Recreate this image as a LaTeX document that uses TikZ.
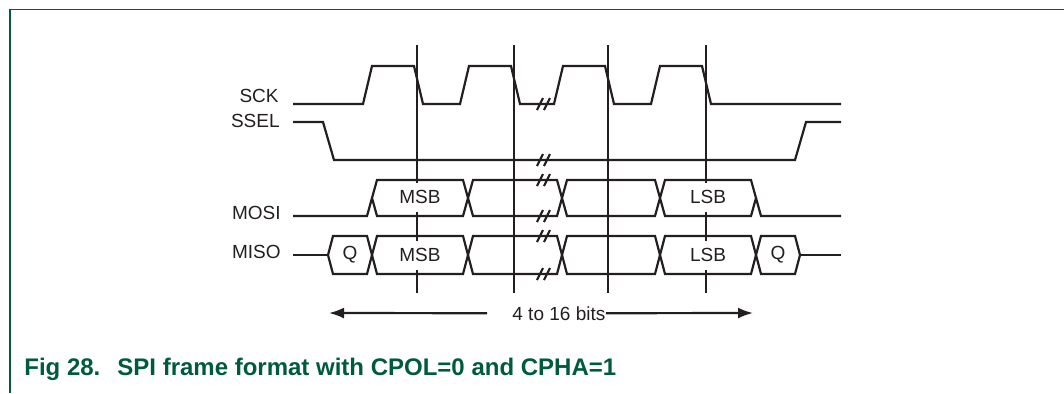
\documentclass[tikz,border=0pt]{standalone}
\usepackage{fontspec}
\setmainfont{Liberation Sans}
\usepackage{xcolor}
\usepackage{tikz}
\usetikzlibrary{arrows.meta}
\definecolor{Ink}{HTML}{231F20}
\definecolor{NxpGreen}{HTML}{005A3E}

\begin{document}
\begin{tikzpicture}[x=0.5pt,y=-0.5pt,
  wave/.style={line width=1.1pt,color=Ink,line join=miter},
  lbl/.style={inner sep=0pt,font=\fontsize{9.5}{11}\selectfont,text=Ink},
  bitlbl/.style={fill=white,inner xsep=2pt,minimum height=14.5pt,font=\fontsize{9.5}{11}\selectfont,text=Ink},
  caption/.style={inner sep=0pt,font=\fontsize{12}{14}\selectfont\bfseries,text=NxpGreen}]
\useasboundingbox (0,0) rectangle (1064,393);
% frame
\draw[NxpGreen,line width=0.8pt] (10,393)--(10,9.5)--(1064,9.5);
% sampling edges
\foreach \x in {417,514,608,706} \draw[wave] (\x,45)--(\x,293);
% SCK and SSEL
\draw[wave] (293,104) foreach \x in {363,460,554,651} {--(\x,104)--(\x+9,66)--(\x+51,66)--(\x+60,104)} --(841,104);
\draw[wave] (293,122)--(323,122)--(334,160)--(795,160)--(806,122)--(841,122);
% MOSI
\draw[wave] (293,216)--(367,216)--(372,198);
\foreach \a/\b in {372/468,468/562,562/660,660/756}
  \draw[wave] (\a,198)--(\a+5,180)--(\b-5,180)--(\b,198)--(\b-5,216)--(\a+5,216)--cycle;
\draw[wave] (756,198)--(761,216)--(841,216);
% MISO
\draw[wave] (293,255)--(328,255);
\foreach \a/\b in {328/372,372/468,468/562,562/660,660/756,756/800}
  \draw[wave] (\a,255)--(\a+5,236)--(\b-5,236)--(\b,255)--(\b-5,274)--(\a+5,274)--cycle;
\draw[wave] (800,255)--(841,255);
% breaks
\foreach \y in {104,160,180,216,236,274}
  \foreach \c in {540,547} \draw[wave] (\c-3,\y+6)--(\c+3,\y-6);
% bit labels
\foreach \x/\t in {420/MSB,708/LSB} \node[bitlbl] (mosi-\t) at (\x,197) {\t};
\foreach \x/\t/\n in {350/Q/qa,420/MSB/msb,708/LSB/lsb,778/Q/qb} \node[bitlbl] (miso-\n) at (\x,255) {\t};
% signal names
\node[lbl,anchor=base east] (sck) at (279,102) {SCK};
\node[lbl,anchor=base east] (ssel) at (280,127) {SSEL};
\node[lbl,anchor=base east] (mosi) at (281,219) {MOSI};
\node[lbl,anchor=base east] (miso) at (281,258) {MISO};
% frame length
\coordinate (bitsL) at (329,313);
\coordinate (bitsR) at (753,313);
\node[lbl,anchor=base west] (bits) at (512,320) {4 to 16 bits};
\draw[wave,-{Latex[length=7.5pt,width=5.5pt]}] ([xshift=-12.5pt]bits.west)--(bitsL);
\draw[wave,-{Latex[length=7.5pt,width=5.5pt]}] (bits.east)--(bitsR);
\node[caption,anchor=base west] (cap) at (24,375) {Fig 28.\hspace{8.5pt}SPI frame format with CPOL=0 and CPHA=1};
\end{tikzpicture}
\end{document}
